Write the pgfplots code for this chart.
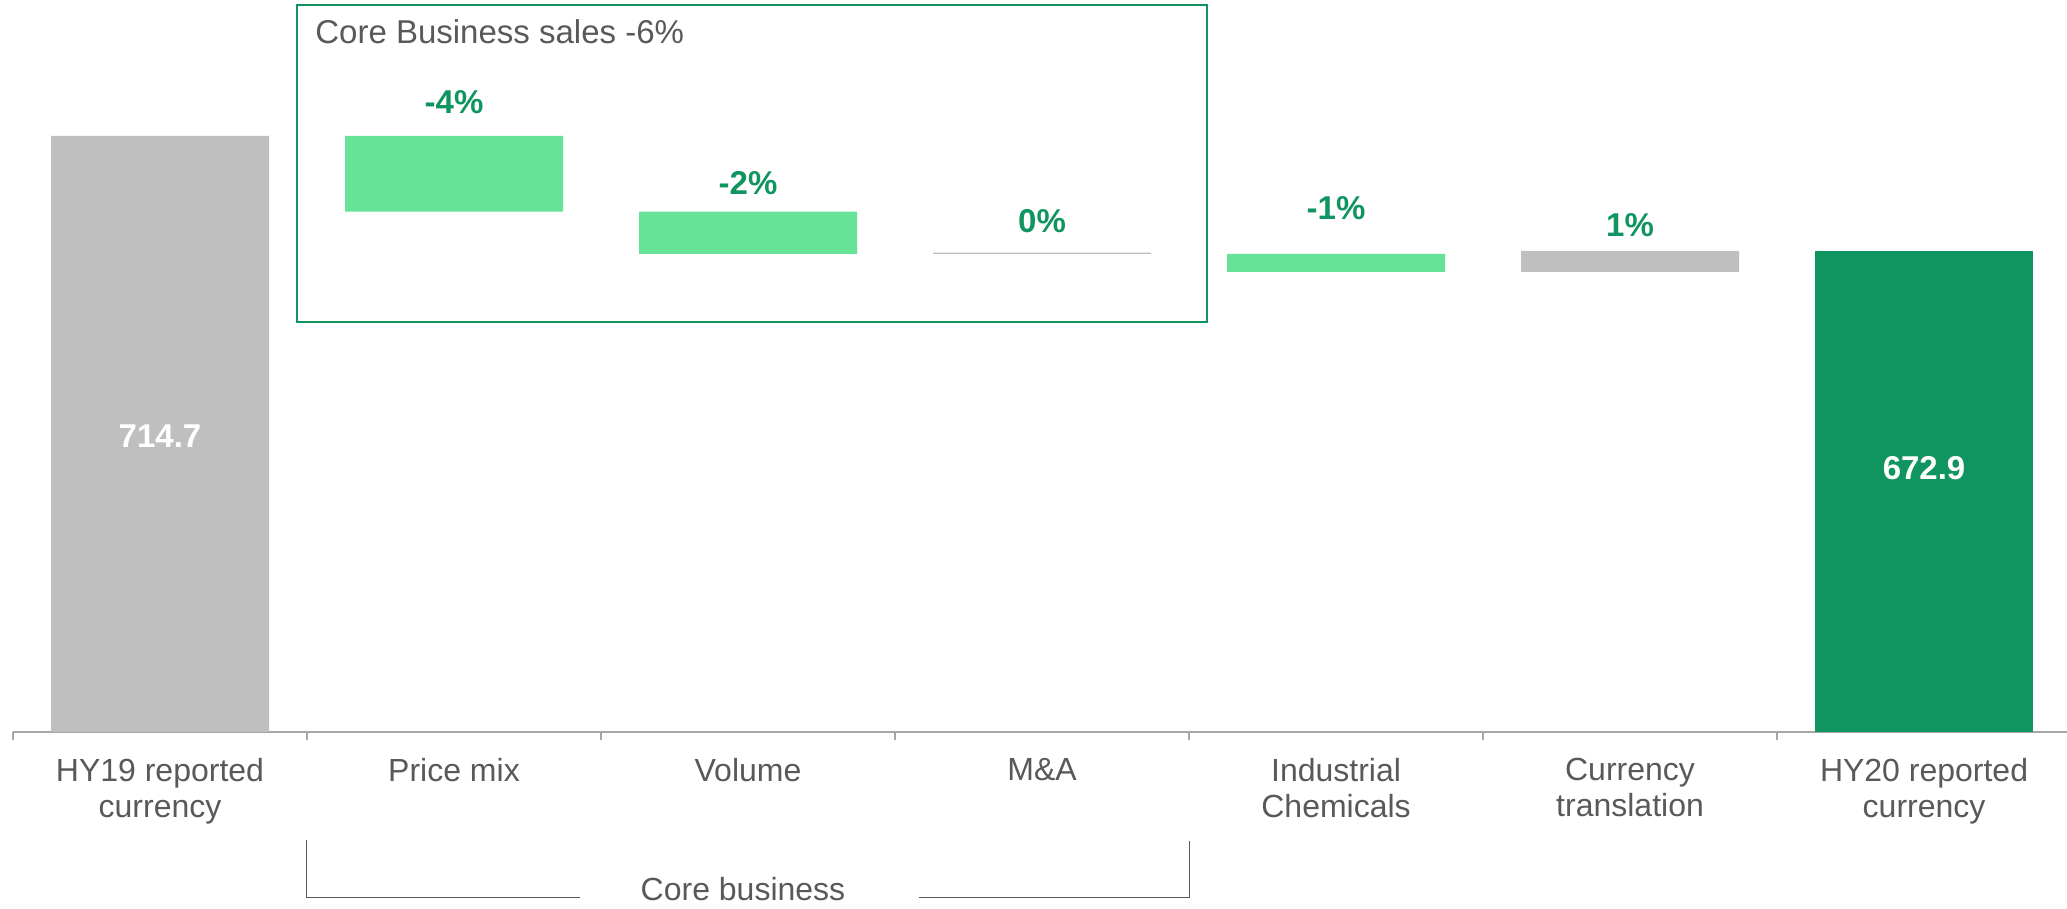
\documentclass[border=0pt]{standalone}
\usepackage{pgfplots}
\pgfplotsset{compat=1.18}
\usepackage{fontspec}
\setmainfont{Liberation Sans}
\definecolor{txtgray}{RGB}{89,89,89}
\definecolor{barGray}{RGB}{191,191,191}
\definecolor{lightGreen}{RGB}{102,227,150}
\definecolor{darkGreen}{RGB}{16,148,96}
\definecolor{axGray}{RGB}{166,166,166}
\begin{document}
\begin{tikzpicture}
\begin{axis}[
  at={(6.5pt,88.5pt)}, anchor=south west,
  scale only axis, width=1027pt, height=366pt,
  xmin=-0.5, xmax=6.486, ymin=498.1, ymax=764.1,
  axis x line=bottom, axis y line=none,
  x axis line style={-, draw=axGray, line width=0.75pt},
  ybar stacked, bar width=109pt,
  xtick={0,...,6},
  xticklabels={HY19 reported\\currency, Price mix, Volume, M\&A, Industrial\\Chemicals, Currency\\translation, HY20 reported\\currency},
  major x tick style={draw=none},
  minor xtick={-0.5,0.5,...,5.5},
  minor x tick style={draw=axGray, line width=0.6pt},
  minor tick length=4pt,
  tick align=outside,
  xticklabel style={font=\fontsize{16}{18}\selectfont, text=txtgray, align=center, anchor=north, inner sep=0pt, yshift=-8.5pt},
]
\addplot[draw=none, fill=none] coordinates {(0,0) (1,687.2) (2,671.8) (3,671.8) (4,665.3) (5,665.3) (6,0)};
\addplot[draw=none, fill=barGray] coordinates {(0,714.7) (1,0) (2,0) (3,0.5) (4,0) (5,7.6) (6,0)};
\addplot[draw=none, fill=lightGreen] coordinates {(0,0) (1,27.5) (2,15.4) (3,0) (4,6.5) (5,0) (6,0)};
\addplot[draw=none, fill=darkGreen] coordinates {(0,0) (1,0) (2,0) (3,0) (4,0) (5,0) (6,672.9)};
\node[font=\bfseries\fontsize{16.5}{19}\selectfont, text=darkGreen] at (axis cs:1,727.1) {-4\%};
\node[font=\bfseries\fontsize{16.5}{19}\selectfont, text=darkGreen] at (axis cs:2,697.7) {-2\%};
\node[font=\bfseries\fontsize{16.5}{19}\selectfont, text=darkGreen] at (axis cs:3,683.8) {0\%};
\node[font=\bfseries\fontsize{16.5}{19}\selectfont, text=darkGreen] at (axis cs:4,688.4) {-1\%};
\node[font=\bfseries\fontsize{16.5}{19}\selectfont, text=darkGreen] at (axis cs:5,682.2) {1\%};
\coordinate (lblA) at (axis cs:0,605.7);
\coordinate (lblB) at (axis cs:6,594.0);
\end{axis}
\node[font=\bfseries\fontsize{16.5}{19}\selectfont, text=white] at (lblA) {714.7};
\node[font=\bfseries\fontsize{16.5}{19}\selectfont, text=white] at (lblB) {672.9};
\draw[darkGreen, line width=1pt] (148.5pt,293.5pt) rectangle (603.5pt,452pt);
\node[anchor=base west, font=\fontsize{16.5}{19}\selectfont, text=txtgray, inner sep=0pt] at (157.5pt,432.5pt) {Core Business sales -6\%};
\node[anchor=base, font=\fontsize{16}{19}\selectfont, text=txtgray, inner sep=0pt] at (371.5pt,4pt) {Core business};
\draw[txtgray, line width=0.5pt] (153pt,34.5pt) -- (153pt,5.5pt) -- (290pt,5.5pt);
\draw[txtgray, line width=0.5pt] (459.5pt,5.5pt) -- (594.5pt,5.5pt) -- (594.5pt,34pt);
\pgfresetboundingbox
\path[use as bounding box] (0pt,0pt) rectangle (1033.5pt,454.5pt);
\end{tikzpicture}
\end{document}
